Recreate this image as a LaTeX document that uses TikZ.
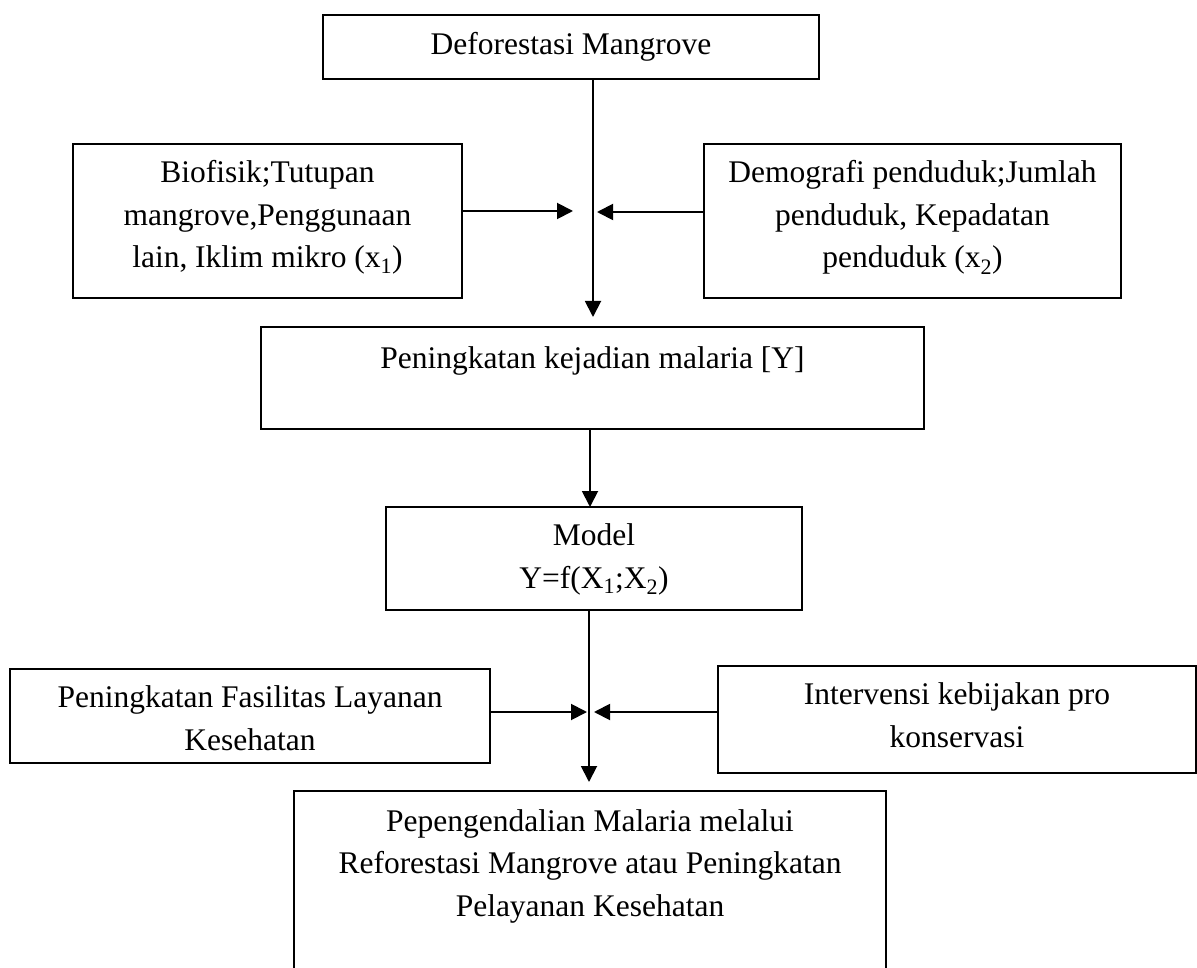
\documentclass[tikz,border=0pt]{standalone}
\usepackage{fontspec}
\setmainfont{Liberation Serif}
\usetikzlibrary{arrows.meta}
\begin{document}
\begin{tikzpicture}[x=1pt,y=-1pt,
  box/.style={draw, line width=2.5pt, rectangle, inner sep=0pt, outer sep=0pt, anchor=north west},
  lbl/.style={font=\fontsize{31.5}{42.5}\selectfont, align=center, anchor=base, inner sep=0pt},
  arr/.style={line width=1.9pt, -{Triangle[length=16pt,width=16pt]}}]
\clip (0,0) rectangle (1197,968);
\fill[white] (0,0) rectangle (1197,968);

% boxes
\node[box, minimum width=496pt, minimum height=64pt]  (defo)  at (323,15)  {};
\node[box, minimum width=389pt, minimum height=154pt] (bio)   at (73,144)  {};
\node[box, minimum width=417pt, minimum height=154pt] (demo)  at (704,144) {};
\node[box, minimum width=663pt, minimum height=102pt] (pen)   at (261,327) {};
\node[box, minimum width=416pt, minimum height=103pt] (model) at (386,507) {};
\node[box, minimum width=480pt, minimum height=94pt]  (fas)   at (10,669)  {};
\node[box, minimum width=478pt, minimum height=107pt] (inter) at (718,666) {};
\node[box, minimum width=592pt, minimum height=250pt] (pep)   at (294,791) {};

% texts (anchor = baseline of the last line)
\node[lbl] (defot)  at (571,55)    {Deforestasi Mangrove};
\node[lbl] (biot)   at (267.5,268) {Biofisik;Tutupan\\mangrove,Penggunaan\\lain, Iklim mikro (x\textsubscript{1})};
\node[lbl] (demot)  at (912.5,268) {Demografi penduduk;Jumlah\\penduduk, Kepadatan\\penduduk (x\textsubscript{2})};
\node[lbl] (pent)   at (592.5,368) {Peningkatan kejadian malaria [Y]};
\node[lbl] (modelt) at (594,588)   {Model\\Y=f(X\textsubscript{1};X\textsubscript{2})};
\node[lbl] (fast)   at (250,750)   {Peningkatan Fasilitas Layanan\\Kesehatan};
\node[lbl] (intert) at (957,747)   {Intervensi kebijakan pro\\konservasi};
\node[lbl] (pept)   at (590,916)   {Pepengendalian Malaria melalui\\Reforestasi Mangrove atau Peningkatan\\Pelayanan Kesehatan};

% free arrow ends
\coordinate (t1) at (593,317);
\coordinate (t2) at (573,211);
\coordinate (t3) at (597,212);
\coordinate (ax2) at (590,468);
\coordinate (t4) at (589,782);
\coordinate (t5) at (587,712);
\coordinate (t6) at (594,712);

% connectors
\draw[arr] (defo.south -| t1) -- (t1);
\draw[arr] (bio.east |- t2) -- (t2);
\draw[arr] (demo.west |- t3) -- (t3);
\draw[arr] (pen.south -| ax2) -- (model.north -| ax2);
\draw[arr] (model.south -| t4) -- (t4);
\draw[arr] (fas.east |- t5) -- (t5);
\draw[arr] (inter.west |- t6) -- (t6);
\end{tikzpicture}
\end{document}
